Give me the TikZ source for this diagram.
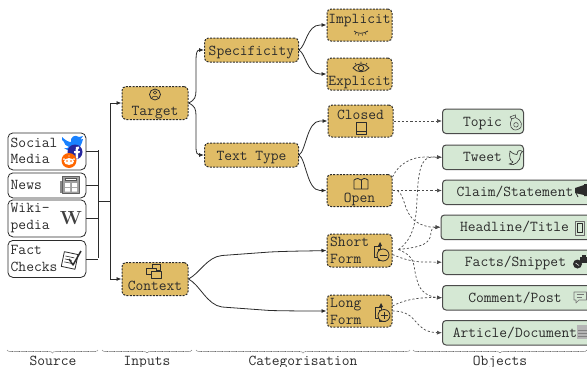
\documentclass[tikz,border=0pt]{standalone}
\usetikzlibrary{arrows.meta,decorations.pathreplacing}
\definecolor{catfill}{HTML}{E0BC66}
\definecolor{objfill}{HTML}{D5E8D4}
\definecolor{ink}{HTML}{2B2B2B}
\tikzset{
 x=1pt,y=-1pt,
 every node/.style={font=\ttfamily\fontsize{15.1}{17}\selectfont,text=ink,inner sep=0pt},
 lab/.style={text height=11pt,text depth=1pt},
 srcbox/.style={draw=ink,line width=.8pt,rounded corners=5pt,fill=white,anchor=north west},
 catbox/.style={draw=ink,dash pattern=on 2pt off 1.3pt,line width=1pt,rounded corners=4pt,fill=catfill},
 objbox/.style={draw=ink!85,line width=1pt,rounded corners=3.5pt,fill=objfill,anchor=north west},
 link/.style={draw=ink,line width=.8pt,-{Latex[length=5pt,width=4pt]}},
 bus/.style={draw=ink,line width=.8pt},
 dlink/.style={draw=ink!85,line width=.7pt,dash pattern=on 2.2pt off 2pt,-{Latex[length=5pt,width=4pt]}},
 brace/.style={draw=ink!70,line width=.6pt,decorate,decoration={brace,mirror,amplitude=3pt},dash pattern=on .8pt off .6pt},
 icon/.style={draw=ink,line width=.8pt,line join=round},
 captext/.style={lab,text=ink},
}
\begin{document}
\begin{tikzpicture}
\useasboundingbox (0,0) rectangle (587,367);
\clip (0,0) rectangle (587,367);
% sources
\node[srcbox,minimum width=78pt,minimum height=37pt] (social) at (7.5,132.5) {};
\node[srcbox,minimum width=78pt,minimum height=25pt] (news) at (7.5,172.5) {};
\node[srcbox,minimum width=78pt,minimum height=37pt] (wiki) at (7.5,199.5) {};
\node[srcbox,minimum width=78pt,minimum height=37pt] (fact) at (7.5,240) {};
\node[anchor=west,align=left] (socialT) at (10.5,151) {Social\\[-.5pt]Media};
\node[anchor=west,lab] (newsT) at (10.5,184) {News};
\node[anchor=west,align=left] (wikiT) at (10.5,218) {Wiki-\\[-.5pt]pedia};
\node[anchor=west,align=left] (factT) at (10.5,258.5) {Fact\\[-.5pt]Checks};
% source icons
\fill[blue!55!cyan!90!white] (62,137) .. controls (66,141) and (69,142) .. (71,142) .. controls (70,137) and (75,134) .. (79,137) -- (83,136) -- (80.5,139.5) -- (83,139) .. controls (81,148) and (75,156) .. (64,148) .. controls (66,148.5) and (68,148) .. (69,147) .. controls (66,146) and (64,144) .. (64,142) .. controls (62.5,141) and (61,139) .. (62,137) -- cycle;
\fill[blue!55!black!85] (75,152) circle (7.5pt);
\fill[white] (76,147) -- (79,146.5) -- (79,148.5) -- (78,149) -- (78,151) -- (80,151) -- (79.5,153) -- (78,153) -- (78,158.5) -- (75.5,158.5) -- (75.5,153) -- (74,153) -- (74,151) -- (75.5,151) -- cycle;
\fill[orange!80!red] (69,160.5) circle (7.5pt);
\fill[white] (69,161.5) ellipse (5pt and 3.4pt);
\fill[orange!80!red] (67,161) circle (.9pt) (71,161) circle (.9pt);
\fill[white] (69,156) circle (.7pt) (64,159) circle (1pt) (74,159) circle (1pt);
% news icon
\fill[ink!55] (60,181) rectangle (63,193);
\draw[icon,ink!75,fill=ink!45] (62.5,176) rectangle (79,193);
\fill[ink!80] (65,177.5) rectangle (77,181);
\fill[white] (66,178.5) rectangle (76,180);
\fill[white] (65,183) rectangle (70,187) (72,183) rectangle (77,187) (65,188) rectangle (70,191.5) (72,188) rectangle (77,191.5);
% W
\node[font=\bfseries\fontsize{19}{19}\selectfont\rmfamily,text=ink!90] (wikiW) at (71,218) {W};
% check icon
\draw[icon,fill=white,rotate around={-12:(70,259)}] (63,253) rectangle (77,268);
\draw[icon,line width=.6pt,rotate around={-12:(70,259)}] (65,257) -- (74,257) (65,260) -- (72,260) (65,263) -- (74,263);
\draw[icon,line width=1.5pt] (69,259) -- (73,265) -- (81,251);
% inputs
\node[catbox,minimum width=66pt,minimum height=33pt] (target) at (155,103) {};
\node[catbox,minimum width=66pt,minimum height=33pt] (context) at (155,279) {};
\node[lab] (targetT) at (155,110.5) {Target};
\node[lab] (contextT) at (155,285.5) {Context};
\draw[icon] (155,94.5) circle (5.5pt);
\draw[icon,line width=.6pt] (155,92.5) circle (1.8pt) (151.5,98.5) .. controls (152,95.5) and (158,95.5) .. (158.5,98.5);
\draw[icon,line width=.6pt,fill=catfill] (152,264.5) rectangle (160,270);
\draw[icon,line width=.6pt,fill=catfill] (146.5,268) rectangle (156,274);
\draw[icon,line width=.6pt,fill=catfill] (151.5,271.5) rectangle (161.5,278);
% categories
\node[catbox,lab,minimum width=94pt,minimum height=24pt] (spec) at (251.5,50) {Specificity};
\node[catbox,lab,minimum width=94pt,minimum height=24pt] (ttype) at (251.5,155) {Text Type};
\node[catbox,minimum width=65pt,minimum height=32pt] (impl) at (359.5,25) {};
\node[catbox,minimum width=65pt,minimum height=32pt] (expl) at (359.5,74) {};
\node[catbox,minimum width=65pt,minimum height=32pt] (closed) at (360.5,121) {};
\node[catbox,minimum width=65pt,minimum height=32pt] (open) at (359.5,190.5) {};
\node[catbox,minimum width=65pt,minimum height=33pt] (short) at (359.5,250.5) {};
\node[catbox,minimum width=65pt,minimum height=32pt] (long) at (359.5,311) {};
\node[lab] (implT) at (359.5,18) {Implicit};
\node[lab] (explT) at (359.5,80) {Explicit};
\node[lab] (closedT) at (360.5,114.5) {Closed};
\node[lab] (openT) at (359.5,197) {Open};
\node[anchor=west,align=left] (shortT) at (330,250.5) {Short\\[-.5pt]Form};
\node[anchor=west,align=left] (longT) at (330,311.5) {Long\\[-.5pt]Form};
% cat icons
\draw[icon,line width=.7pt] (354,31) .. controls (357,34) and (364,34) .. (368,31);
\draw[icon,line width=.6pt] (356,32.5) -- (355,34.5) (359,33.5) -- (358.5,35.5) (362,33.5) -- (362.5,35.5) (365,32.5) -- (366,34.5);
\draw[icon] (353,68) .. controls (357,62.5) and (365,62.5) .. (369,68) .. controls (365,73) and (357,73) .. (353,68) -- cycle;
\draw[icon] (361,68) circle (2.7pt);
\draw[icon,line width=.6pt] (361,61.5) -- (361,63.5) (355,63) -- (356,64.5) (367,63) -- (366,64.5);
\draw[icon,line width=1pt] (356,122) rectangle (366,134);
\draw[icon] (356,131) -- (366,131);
\draw[icon] (354,180) .. controls (357,178) and (359,178) .. (361,180) .. controls (363,178) and (365,178) .. (368,180) -- (368,189) -- (354,189) -- cycle;
\draw[icon] (361,180) -- (361,189);
% short/long icons
\draw[icon] (374,246) rectangle (380,257);
\draw[icon,fill=catfill] (378,249) rectangle (384,260);
\fill[ink] (378,246) -- (382,246) -- (380,242) -- cycle;
\draw[icon,fill=catfill] (383,255) circle (6pt);
\draw[icon] (379.5,255) -- (386.5,255);
\draw[icon] (375,307) rectangle (381,318);
\draw[icon,fill=catfill] (379,310) rectangle (385,321);
\fill[ink] (379,307) -- (383,307) -- (381,303) -- cycle;
\draw[icon,fill=catfill] (384,315.5) circle (6pt);
\draw[icon] (380.5,315.5) -- (387.5,315.5) (384,312) -- (384,319);
% objects
\node[objbox,minimum width=81pt,minimum height=24.5pt] (topic) at (442,108.5) {};
\node[objbox,minimum width=81pt,minimum height=24.5pt] (tweet) at (442,144.5) {};
\node[objbox,minimum width=160pt,minimum height=24.5pt] (claim) at (442,179.5) {};
\node[objbox,minimum width=160pt,minimum height=24.5pt] (head) at (440.5,214.5) {};
\node[objbox,minimum width=160pt,minimum height=24.5pt] (facts) at (442,249.5) {};
\node[objbox,minimum width=160pt,minimum height=24.5pt] (comm) at (442,285) {};
\node[objbox,minimum width=160pt,minimum height=24.5pt] (art) at (442,320) {};
\node[lab] (topicT) at (482.5,121) {Topic};
\node[lab] (tweetT) at (482.5,156) {Tweet};
\node[lab] (claimT) at (515,191) {Claim/Statement};
\node[lab] (headT) at (514.5,226) {Headline/Title};
\node[lab] (factsT) at (515.5,261.5) {Facts/Snippet};
\node[lab] (commT) at (515,297) {Comment/Post};
\node[lab] (artT) at (515,332) {Article/Document};
% obj icons
\begin{scope}[rotate around={20:(515,122)}]
\draw[icon,line width=.6pt,ink!85] (513,118) .. controls (508,122) and (508,130) .. (515,130) .. controls (522,130) and (522,122) .. (517,118) -- cycle;
\draw[icon,line width=.6pt,ink!85] (515,125) circle (2.3pt);
\draw[icon,line width=.6pt,ink!85] (512,115.5) -- (518,115.5) -- (517,118) (512,115.5) -- (513,118);
\end{scope}
\draw[icon,line width=.6pt] (510,151) .. controls (513,154) and (515,154.5) .. (517,154.5) .. controls (517,150.5) and (520,149.5) .. (522.5,151.5) -- (520.5,154) .. controls (521,161) and (514,167) .. (509,164) .. controls (511,164) and (512,163) .. (513,162) .. controls (510,161) and (509,157) .. (510,151) -- cycle;
\fill[ink] (575,188) -- (584,185) -- (584,195) -- (575,193) -- cycle (584,184) rectangle (587,196);
\draw[icon] (576,193) -- (578,197);
\draw[icon,line width=1pt,ink!70,fill=objfill] (575,221) rectangle (584,235);
\draw[icon,line width=.6pt] (577,223) rectangle (582,232);
\fill[ink] (580,257) rectangle (587,263);
\fill[ink] (577.5,264) circle (4.5pt);
\fill[ink] (582,255) rectangle (586,258);
\draw[icon,line width=.5pt,white] (575.5,263) -- (579,265.5);
\draw[icon,line width=.6pt,ink!65] (574,292) -- (586.5,292) -- (586.5,300) -- (579,300) -- (576,303) -- (576,300) -- (574,300) -- cycle;
\draw[icon,line width=.6pt,ink!65] (576.5,294.5) -- (584,294.5) (576.5,297) -- (582,297);
\fill[ink!35] (577,325) rectangle (587,339);
\draw[ink!60,line width=.5pt] (578,330) -- (587,330) (578,333) -- (587,333) (578,336) -- (587,336);
% solid connectors
\coordinate (busTop) at (98,150);
\coordinate (busBot) at (98,258);
\coordinate (busMid) at (98,201);
\coordinate (joint) at (110,201);
\draw[bus] (social.east) -- (social.east -| busTop);
\draw[bus] (news.east) -- (news.east -| busTop);
\draw[bus] (wiki.east) -- (wiki.east -| busTop);
\draw[bus] (fact.east) -- (fact.east -| busTop);
\draw[bus] (busTop) -- (busBot);
\draw[bus] (busMid) -- (joint);
\draw[link] (joint) |- (target.west);
\draw[link] (joint) |- (context.west);
\draw[link] (target.east) .. controls (195,100) and (196,97) .. (196,90) -- (196,60) .. controls (196,53) and (197,50) .. (spec.west);
\draw[link] (target.east) .. controls (195,106) and (196,109) .. (196,116) -- (196,146) .. controls (196,153) and (197,155) .. (ttype.west);
\draw[link] (spec.east) .. controls (306,46) and (307,25) .. (320,25) -- (impl.west);
\draw[link] (spec.east) .. controls (306,54) and (307,74) .. (320,74) -- (expl.west);
\draw[link] (ttype.east) .. controls (306,151) and (307,121) .. (320,121) -- (closed.west);
\draw[link] (ttype.east) .. controls (306,159) and (307,190.5) .. (320,190.5) -- (open.west);
\draw[link] (context.east) .. controls (200,273) and (207,257) .. (222,255.5) -- (270,252) .. controls (290,251) and (310,251) .. (short.west);
\draw[link] (context.east) .. controls (200,285) and (207,305) .. (222,307) -- (270,310.5) .. controls (290,311) and (310,311) .. (long.west);
% dashed connectors
\draw[dlink] (closed.east) -- (closed.east -| topic.west);
\draw[dlink] (open.north east) ++(0,3) .. controls (398,165) and (410,157) .. (425,157) -- (tweet.west);
\draw[dlink] (open.east) -- (claim.west |- open.east);
\draw[dlink] (open.east) ++(5,0) .. controls (408,198) and (401,222) .. (430,227) -- (head.west);
\draw[dlink] (short.east) ++(6,-1) .. controls (412,240) and (416,225) .. (417,200) .. controls (418,175) and (420,157) .. (432,157) -- (tweet.west);
\draw[dlink] (short.east) ++(6,-1) .. controls (420,247) and (431,245) .. (431,232) .. controls (431,229) and (433,227) .. (head.west);
\draw[dlink] (short.east) ++(0,4) .. controls (405,260) and (415,262) .. (425,262) -- (facts.west);
\draw[dlink] (short.east) ++(6,-1) .. controls (418,258) and (412,265) .. (417,280) .. controls (420,293) and (430,297) .. (comm.west);
\draw[dlink] (long.east) ++(0,-5) .. controls (402,301) and (415,297) .. (comm.west);
\draw[dlink] (long.east) .. controls (420,311) and (412,332) .. (art.west);
% braces
\coordinate (bA) at (7,350); \coordinate (bB) at (98,350);
\coordinate (bC) at (102,350); \coordinate (bD) at (192,350);
\coordinate (bE) at (196,350); \coordinate (bF) at (410,350);
\coordinate (bG) at (413,350); \coordinate (bH) at (587,350);
\draw[brace] (bA) -- (bB);
\draw[brace] (bC) -- (bD);
\draw[brace] (bE) -- (bF);
\draw[brace] (bG) -- (bH);
\node[captext] (capA) at (53,360) {Source};
\node[captext] (capB) at (147,360) {Inputs};
\node[captext] (capC) at (303,360) {Categorisation};
\node[captext] (capD) at (500,360) {Objects};
\end{tikzpicture}
\end{document}
